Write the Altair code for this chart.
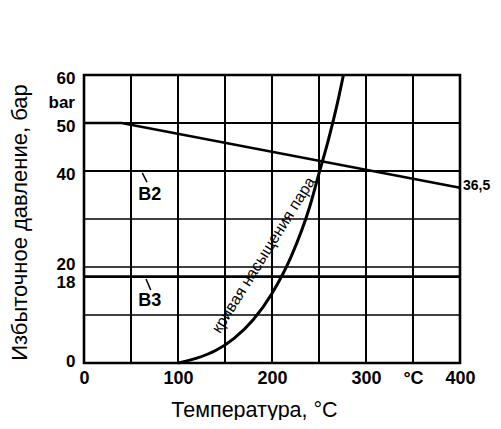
import altair as alt
import pandas as pd

# ---- data ----
sat_temp = [100, 120, 140, 160, 180, 200, 220, 240, 250, 260, 270, 276]
sat_pres = [0, 1.0, 2.6, 5.2, 9.0, 14.5, 22, 32.5, 39.5, 46.5, 54.5, 60]

b2_temp = [0, 40, 400]
b2_pres = [50, 50, 36.5]

b3_temp = [0, 400]
b3_pres = [18, 18]

x_ticks = [0, 100, 200, 300, 350, 400]
y_ticks = [0, 18, 20, 40, 50, 60]

v_grid = [50, 100, 150, 200, 250, 300, 350]
h_grid_thin = [10, 20, 30]
h_grid_thick = [40, 50]

# leader strokes (from, to) for labels B2 / B3
lead_x = [62, 66]
lead_y = [39.6, 17.5]
lead_x2 = [67, 71]
lead_y2 = [37.7, 15.2]

lbl_text = ["B2", "B3"]
lbl_x = [70, 70]
lbl_y = [35, 12.9]

TICK_FONT = "Liberation Sans"
TITLE_FONT = "Liberation Sans"

xs = alt.Scale(domain=[0, 400], nice=False)
ys = alt.Scale(domain=[0, 60], nice=False)

xaxis = alt.Axis(
    values=x_ticks, labelExpr="datum.value == 350 ? '°C' : datum.label",
    grid=False, ticks=False, domain=False, labelFont=TICK_FONT, labelFontSize=18,
    labelFontWeight="bold", labelColor="black", labelPadding=6, labelOverlap=False,
    title="Температура, °C", titleFont=TITLE_FONT, titleFontSize=21.5,
    titleFontWeight="normal", titleColor="black", titleX=170, titleY=53,
    titleBaseline="alphabetic", titleAlign="center", labelFlush=False,
)
yaxis = alt.Axis(
    values=y_ticks, grid=False, ticks=False, domain=False, labelFont=TICK_FONT,
    labelFontSize=17, labelFontWeight="bold", labelColor="black", labelPadding=9,
    labelOverlap=False, labelBaseline="middle",
    labelOffset={"condition": [
        {"test": "datum.value == 18", "value": 6},
        {"test": "datum.value == 20", "value": -3},
        {"test": "datum.value == 0", "value": -2},
    ], "value": 3},
    title="Избыточное давление, бар", titleFont=TITLE_FONT, titleFontSize=22,
    titleFontWeight="normal", titleColor="black", titleX=-65, titleY=147,
    titleAngle=270, titleBaseline="middle", titleAlign="center", labelFlush=False,
)

base_df = pd.DataFrame({"t": b3_temp, "p": b3_pres})

vgrid = alt.Chart(pd.DataFrame({"t": v_grid})).mark_rule(color="black", strokeWidth=2).encode(
    x=alt.X("t:Q", scale=xs, axis=xaxis)
)
hthin = alt.Chart(pd.DataFrame({"p": h_grid_thin})).mark_rule(color="black", strokeWidth=1.3).encode(
    y=alt.Y("p:Q", scale=ys, axis=yaxis)
)
hthick = alt.Chart(pd.DataFrame({"p": h_grid_thick})).mark_rule(color="black", strokeWidth=2).encode(
    y=alt.Y("p:Q", scale=ys)
)

b3 = alt.Chart(base_df).mark_line(color="black", strokeWidth=2.6).encode(
    x=alt.X("t:Q", scale=xs), y=alt.Y("p:Q", scale=ys)
)
b2 = alt.Chart(pd.DataFrame({"t": b2_temp, "p": b2_pres})).mark_line(color="black", strokeWidth=2.6).encode(
    x=alt.X("t:Q", scale=xs), y=alt.Y("p:Q", scale=ys)
)
sat = alt.Chart(pd.DataFrame({"t": sat_temp, "p": sat_pres})).mark_line(
    color="black", strokeWidth=3, interpolate="monotone"
).encode(x=alt.X("t:Q", scale=xs), y=alt.Y("p:Q", scale=ys))

leaders = alt.Chart(pd.DataFrame({"x": lead_x, "y": lead_y, "x2": lead_x2, "y2": lead_y2})).mark_rule(
    color="black", strokeWidth=1.5
).encode(x=alt.X("x:Q", scale=xs), y=alt.Y("y:Q", scale=ys), x2="x2:Q", y2="y2:Q")

labels = alt.Chart(pd.DataFrame({"txt": lbl_text, "t": lbl_x, "p": lbl_y})).mark_text(
    font=TICK_FONT, fontSize=18, fontWeight="bold", color="black", align="center", baseline="middle"
).encode(x=alt.X("t:Q", scale=xs), y=alt.Y("p:Q", scale=ys), text="txt:N")

end_lbl = alt.Chart(pd.DataFrame({"txt": ["36,5"], "t": [400], "p": [36.5]})).mark_text(
    font=TICK_FONT, fontSize=14, fontWeight="bold", color="black", align="left", baseline="middle",
    dx=3, dy=-2
).encode(x=alt.X("t:Q", scale=xs), y=alt.Y("p:Q", scale=ys), text="txt:N")

bar_lbl = alt.Chart(pd.DataFrame({"txt": ["bar"], "t": [0], "p": [54.2]})).mark_text(
    font=TICK_FONT, fontSize=17, fontWeight="bold", color="black", align="right", baseline="middle",
    dx=-9
).encode(x=alt.X("t:Q", scale=xs), y=alt.Y("p:Q", scale=ys), text="txt:N")

curve_lbl = alt.Chart(pd.DataFrame({"txt": ["кривая насыщения пара"], "t": [191], "p": [22.5]})).mark_text(
    font=TITLE_FONT, fontSize=16, color="black", align="center", baseline="middle", angle=302
).encode(x=alt.X("t:Q", scale=xs), y=alt.Y("p:Q", scale=ys), text="txt:N")

chart = alt.layer(
    vgrid, hthin, hthick, b3, b2, sat, leaders, labels, end_lbl, bar_lbl, curve_lbl
).properties(
    width=376, height=288,
    autosize=alt.AutoSizeParams(type="none"),
    padding={"left": 76, "top": 67, "right": 33, "bottom": 57},
    background="white",
).configure_view(stroke="black", strokeWidth=2.6)

chart.save("out.html", embed_options={"renderer": "svg", "actions": False})
